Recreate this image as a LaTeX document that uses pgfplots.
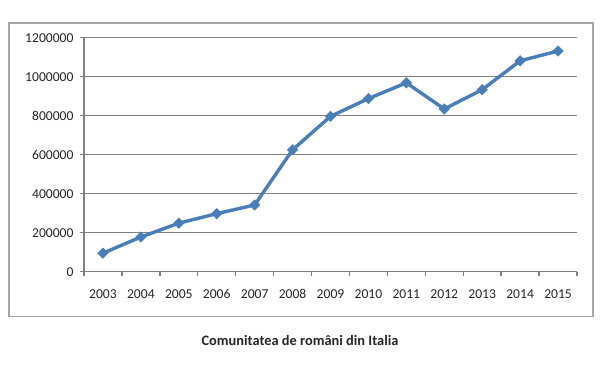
\documentclass[border=0pt]{standalone}
\usepackage{pgfplots}
\pgfplotsset{compat=1.18}
\usepackage{fontspec}
\setmainfont{Carlito}
\definecolor{exblue}{RGB}{74,126,187}
\definecolor{gridgray}{RGB}{128,128,128}
\definecolor{framegray}{RGB}{165,165,165}
\begin{document}
\begin{tikzpicture}[x=1pt,y=1pt]
\useasboundingbox (0,0) rectangle (600,369);
\draw[framegray,line width=1.2pt] (9,52.5) rectangle (593,346);
\begin{axis}[
  at={(84pt,97.3pt)}, anchor=south west,
  scale only axis, width=493pt, height=234pt,
  xmin=-0.5, xmax=12.5, ymin=0, ymax=1200000,
  axis x line*=bottom, axis y line*=left,
  axis line style={-, gridgray, line width=1.4pt},
  xtick={-0.5,0.5,...,12.5},
  x tick label as interval,
  xticklabels={2003,2004,2005,2006,2007,2008,2009,2010,2011,2012,2013,2014,2015},
  major tick length=4pt,
  tick align=outside,
  xtick pos=bottom, ytick pos=left,
  tick style={draw=gridgray, line width=1.4pt},
  ytick={0,200000,...,1200000},
  scaled y ticks=false,
  yticklabel={\pgfmathprintnumber[fixed,precision=0,1000 sep={}]{\tick}},
  ymajorgrids, grid style={gridgray, line width=1.4pt},
  /pgf/number format/assume math mode=true,
  tick label style={font=\fontsize{13.6}{14}\selectfont, text=black!85},
  xticklabel style={yshift=-10pt},
  yticklabel style={xshift=-3pt},
  clip=false,
]
\addplot[exblue, line width=3.4pt, mark=square*, mark size=3.7pt, mark options={rotate=45, fill=exblue, line width=0.5pt}]
coordinates {
(0,95039) (1,177812) (2,248849) (3,297570) (4,342200) (5,625278) (6,796477)
(7,887763) (8,968576) (9,834465) (10,933354) (11,1081400) (12,1131839)
};
\end{axis}
\node[font=\bfseries\fontsize{14.4}{15}\selectfont, text=black!85] at (300,28) {Comunitatea de români din Italia};
\end{tikzpicture}
\end{document}
